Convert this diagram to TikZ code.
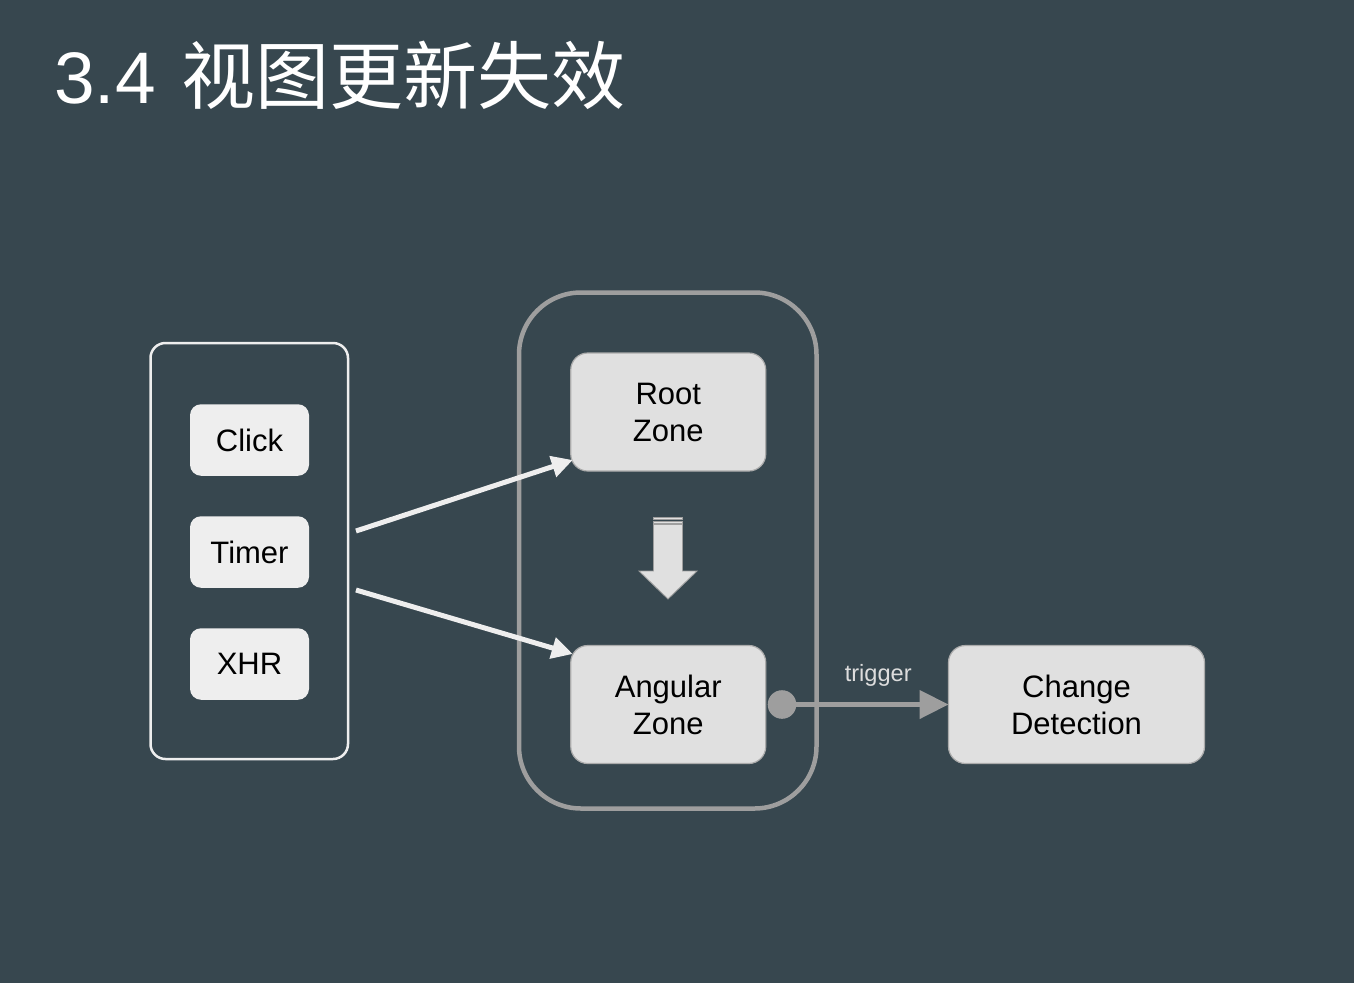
\documentclass[tikz,border=0pt]{standalone}
\usepackage{fontspec}
\setmainfont{Liberation Sans}
\newfontfamily\cjk{Noto Sans CJK SC}
\usetikzlibrary{arrows.meta,calc}
\definecolor{bg}{HTML}{37474F}
\definecolor{boxlight}{HTML}{EEEEEE}
\definecolor{zonefill}{HTML}{E0E0E0}
\definecolor{zoneborder}{HTML}{ABABAB}
\definecolor{midgray}{HTML}{9E9E9E}
\definecolor{labelgray}{HTML}{DDDDDD}
\tikzset{
  smallbox/.style={fill=boxlight, rounded corners=11pt, minimum width=119pt, minimum height=71.5pt,
    inner sep=0pt, outer sep=0pt, text=black, font=\fontsize{31}{37}\selectfont},
  zonebox/.style={draw=zoneborder, line width=1.2pt, fill=zonefill, rounded corners=17pt,
    minimum width=195pt, minimum height=118pt, inner sep=0pt, outer sep=0pt, align=center,
    text=black, font=\fontsize{31}{37}\selectfont},
  groupbox/.style={draw=boxlight, line width=2.5pt, rounded corners=15pt, inner sep=0pt, outer sep=0pt},
  zonegroup/.style={draw=midgray, line width=4.5pt, rounded corners=62pt, inner sep=0pt, outer sep=0pt},
  flow/.style={draw=boxlight, line width=5pt, -{Triangle[length=21pt,width=21pt]}},
  trig/.style={draw=midgray, line width=4.5pt, -{Triangle[length=29pt,width=28pt]}},
  dotstart/.style={circle, fill=midgray, minimum size=28.6pt, inner sep=0pt, outer sep=0pt},
  downarrow/.style={draw=midgray, fill=zonefill, line width=0.9pt},
}
\begin{document}
\begin{tikzpicture}[x=1pt,y=-1pt]
\fill[bg] (0,0) rectangle (1354,983);
\useasboundingbox (0,0) rectangle (1354,983);

% title
\node[anchor=base west, inner sep=0pt, text=white, font=\fontsize{73}{80}\selectfont] (title) at (54,103.5)
  {3.4\hspace{26pt}{\cjk\fontsize{74}{80}\selectfont 视图更新失效}};

% left group
\node[groupbox, minimum width=197.5pt, minimum height=416pt] (events) at (249.25,551) {};
\node[smallbox] (click) at (249.5,440) {Click};
\node[smallbox] (timer) at (249.5,552) {Timer};
\node[smallbox] (xhr) at (249.5,664) {XHR};

% zone group
\node[zonegroup, minimum width=297.5pt, minimum height=516pt] (zones) at (667.75,550.5) {};
\node[zonebox] (root) at (668.25,412) {Root\\Zone};
\node[zonebox] (angular) at (668.25,704.5) {Angular\\Zone};

% change detection
\node[zonebox, minimum width=256pt] (change) at (1076.5,704.5) {Change\\Detection};

% down arrow between zones
\draw[downarrow] (653.5,517.5) rectangle (682.5,519.8);
\draw[downarrow] (653.5,521.2) rectangle (682.5,523.2);
\draw[downarrow] (653.5,524.5) -- (682.5,524.5) -- (682.5,571) -- (697,571) -- (668,599)
  -- (639,571) -- (653.5,571) -- cycle;

% event arrows
\coordinate (s1) at (356,531);
\coordinate (s2) at (356,590);
\draw[flow] (s1) -- ([shift={(2,-11)}]root.south west);
\draw[flow] (s2) -- ([shift={(2,8.5)}]angular.north west);

% trigger
\node[dotstart] (dot) at (782,704.5) {};
\draw[trig] (dot.center) -- node[pos=0.578, anchor=base, yshift=23pt, inner sep=0pt,
  text=labelgray, font=\fontsize{23.6}{28}\selectfont] (triglabel) {trigger} (change.west);
\end{tikzpicture}
\end{document}
